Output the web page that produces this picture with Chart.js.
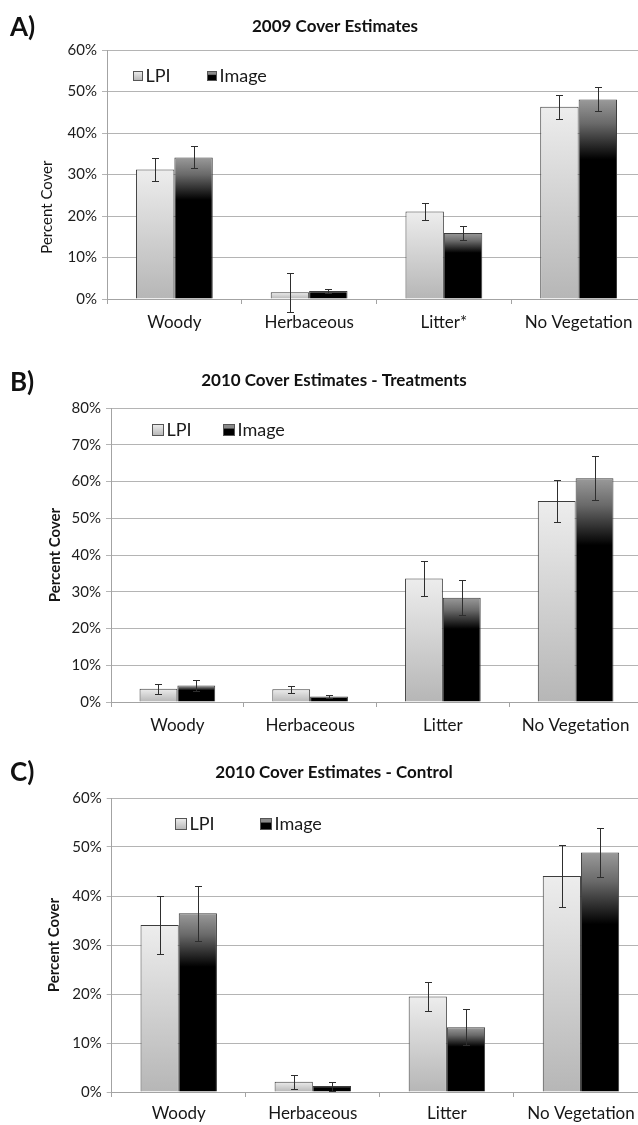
<!DOCTYPE html>
<html>
<head>
<meta charset="utf-8">
<title>Cover Estimates</title>
<script src="https://cdn.jsdelivr.net/npm/chart.js@4.4.1/dist/chart.umd.min.js"></script>
<style>
  html, body { margin: 0; padding: 0; background: #fff; overflow: hidden; width: 638px; height: 1125px; }
  canvas.panel { position: absolute; left: 0; }
  .tag { position: absolute; left: 10px; font: bold 26px Lato, sans-serif; color: #111; line-height: 30px; z-index: 2; }
</style>
</head>
<body>
<canvas id="chart2009" class="panel" width="660" height="345" style="top:0px"></canvas>
<canvas id="chartTreat" class="panel" width="660" height="400" style="top:345px"></canvas>
<canvas id="chartControl" class="panel" width="660" height="386" style="top:745px"></canvas>
<div class="tag" style="top:11px">A)</div>
<div class="tag" style="top:366px">B)</div>
<div class="tag" style="top:756px">C)</div>
<script>
// ---- data -------------------------------------------------------------
const categories2009 = ['Woody', 'Herbaceous', 'Litter*', 'No Vegetation'];
const categories2010 = ['Woody', 'Herbaceous', 'Litter', 'No Vegetation'];
const seriesNames = ['LPI', 'Image'];

// 2009 cover estimates (percent) and error half-widths
const lpi2009 = [31.2, 1.6, 21.1, 46.3];
const lpiErr2009 = [2.7, 4.7, 2.0, 2.85];
const image2009 = [34.1, 1.9, 15.9, 48.1];
const imageErr2009 = [2.65, 0.5, 1.75, 2.9];

// 2010 treatments
const lpiTreat = [3.6, 3.5, 33.6, 54.7];
const lpiErrTreat = [1.35, 0.95, 4.8, 5.6];
const imageTreat = [4.5, 1.5, 28.4, 60.9];
const imageErrTreat = [1.6, 0.5, 4.85, 6.05];

// 2010 control
const lpiControl = [34.1, 2.1, 19.5, 44.1];
const lpiErrControl = [5.9, 1.4, 3.0, 6.35];
const imageControl = [36.5, 1.2, 13.2, 48.9];
const imageErrControl = [5.6, 0.9, 3.7, 5.05];

// y-axis tick labels
const ticks60 = ['0%', '10%', '20%', '30%', '40%', '50%', '60%'];
const ticks80 = ['0%', '10%', '20%', '30%', '40%', '50%', '60%', '70%', '80%'];

// ---- styling ----------------------------------------------------------
Chart.defaults.font.family = 'Lato, "Open Sans", sans-serif';
Chart.defaults.color = '#1f1f1f';

const lpiStops = [[0, '#ededed'], [1, '#b6b6b6']];
const imageStops = [[0, '#9a9a9a'], [0.12, '#6a6a6a'], [0.3, '#000000'], [1, '#000000']];
const swatchStops = [lpiStops, [[0, '#8a8a8a'], [0.3, '#8a8a8a'], [0.45, '#000'], [1, '#000']]];

// vertical gradient spanning each bar from its value down to zero
function barFill(stops) {
  return (c) => {
    const chart = c.chart;
    if (c.type !== 'data' || !chart.chartArea) return stops[stops.length - 1][1];
    const y = chart.scales.y;
    const top = y.getPixelForValue(c.raw);
    const base = y.getPixelForValue(0);
    if (!isFinite(top) || !isFinite(base) || Math.abs(base - top) < 1) return stops[0][1];
    const g = chart.ctx.createLinearGradient(0, top, 0, base);
    stops.forEach(([p, col]) => g.addColorStop(p, col));
    return g;
  };
}

// error whiskers with caps, drawn from each dataset's `errors` array
const errorBars = {
  id: 'errorBars',
  afterDatasetsDraw(chart) {
    const { ctx } = chart;
    const y = chart.scales.y;
    ctx.save();
    ctx.strokeStyle = '#2e2e2e';
    ctx.lineWidth = 1;
    chart.data.datasets.forEach((ds, di) => {
      const meta = chart.getDatasetMeta(di);
      meta.data.forEach((bar, i) => {
        const v = ds.data[i], e = ds.errors[i];
        const x = Math.round(bar.x) + 0.5;
        const hi = Math.round(y.getPixelForValue(v + e)) + 0.5;
        const lo = Math.round(y.getPixelForValue(v - e)) + 0.5;
        ctx.beginPath();
        ctx.moveTo(x, hi); ctx.lineTo(x, lo);
        ctx.moveTo(x - 3.5, hi); ctx.lineTo(x + 3.5, hi);
        ctx.moveTo(x - 3.5, lo); ctx.lineTo(x + 3.5, lo);
        ctx.stroke();
      });
    });
    ctx.restore();
  }
};

// legend drawn inside the plotting area, top left
const insideLegend = {
  id: 'insideLegend',
  afterDraw(chart, args, opts) {
    const { ctx, chartArea } = chart;
    ctx.save();
    ctx.font = '18px Lato, "Open Sans", sans-serif';
    ctx.textBaseline = 'middle';
    chart.data.datasets.forEach((ds, i) => {
      const s = opts.box;
      const bx = Math.round(chartArea.left + opts.offsets[i]) + 0.5;
      const cy = chartArea.top + opts.y;
      const by = Math.round(cy - s / 2) + 0.5;
      const g = ctx.createLinearGradient(0, by, 0, by + s);
      swatchStops[i].forEach(([p, col]) => g.addColorStop(p, col));
      ctx.fillStyle = g;
      ctx.fillRect(bx, by, s, s);
      ctx.strokeStyle = '#555';
      ctx.lineWidth = 1;
      ctx.strokeRect(bx, by, s, s);
      ctx.fillStyle = '#1a1a1a';
      ctx.fillText(ds.label, bx + s + 3, cy + 1);
    });
    ctx.restore();
  }
};

function makeChart(id, cfg) {
  return new Chart(document.getElementById(id), {
    type: 'bar',
    data: {
      labels: cfg.categories,
      datasets: [
        { label: seriesNames[0], data: cfg.lpi, errors: cfg.lpiErr, backgroundColor: barFill(lpiStops),
          borderColor: '#3c3c3c', borderWidth: 1, categoryPercentage: 0.57, barPercentage: 1 },
        { label: seriesNames[1], data: cfg.image, errors: cfg.imageErr, backgroundColor: barFill(imageStops),
          borderColor: '#3c3c3c', borderWidth: 1, categoryPercentage: 0.57, barPercentage: 1 }
      ]
    },
    options: {
      responsive: false,
      animation: false,
      events: [],
      layout: { padding: cfg.padding },
      plugins: {
        legend: { display: false },
        tooltip: { enabled: false },
        title: {
          display: true, text: cfg.title, color: '#111',
          font: { size: 17, weight: 'bold' },
          padding: cfg.titlePadding
        },
        insideLegend: cfg.legend
      },
      scales: {
        x: {
          grid: { offset: true, drawOnChartArea: false, tickLength: 5, color: '#a3a3a3' },
          border: { color: '#a3a3a3' },
          ticks: { font: { size: 17 }, color: '#161616', padding: cfg.xPad, maxRotation: 0, autoSkip: false }
        },
        y: {
          min: 0, max: cfg.max,
          afterFit: (scale) => { scale.width = cfg.yWidth; },
          grid: { color: '#b4b4b4', tickLength: 5 },
          border: { color: '#a3a3a3' },
          ticks: { stepSize: 10, font: { size: 15 }, color: '#1c1c1c', padding: 5,
                   callback: (v, i) => cfg.tickLabels[i] },
          title: { display: true, text: cfg.yTitle, color: '#161616',
                   font: { size: 15, weight: cfg.yTitleWeight },
                   padding: { top: cfg.yTitlePad, bottom: 0 } }
        }
      }
    },
    plugins: [errorBars, insideLegend]
  });
}

makeChart('chart2009', {
  categories: categories2009, lpi: lpi2009, lpiErr: lpiErr2009, image: image2009, imageErr: imageErr2009,
  title: '2009 Cover Estimates', max: 60, tickLabels: ticks60,
  yTitle: 'Percent Cover' + ' '.repeat(17), yTitleWeight: 'normal', yTitlePad: 14,
  padding: { left: 24, right: 14, top: 0, bottom: 4.6 },
  titlePadding: { top: 16, bottom: 13.6 }, yWidth: 83, xPad: 8,
  legend: { offsets: [26, 100], y: 25, box: 9 }
});

makeChart('chartTreat', {
  categories: categories2010, lpi: lpiTreat, lpiErr: lpiErrTreat, image: imageTreat, imageErr: imageErrTreat,
  title: '2010 Cover Estimates - Treatments', max: 80, tickLabels: ticks80,
  yTitle: 'Percent Cover', yTitleWeight: 'bold', yTitlePad: 20,
  padding: { left: 26, right: 18, top: 0, bottom: 1.6 },
  titlePadding: { top: 25, bottom: 17.6 }, yWidth: 85, xPad: 8,
  legend: { offsets: [41, 112], y: 21, box: 11 }
});

makeChart('chartControl', {
  categories: categories2010, lpi: lpiControl, lpiErr: lpiErrControl, image: imageControl, imageErr: imageErrControl,
  title: '2010 Cover Estimates - Control', max: 60, tickLabels: ticks60,
  yTitle: 'Percent Cover', yTitleWeight: 'bold', yTitlePad: 25,
  padding: { left: 20, right: 12, top: 0, bottom: 1.6 },
  titlePadding: { top: 17, bottom: 15.6 }, yWidth: 91.7, xPad: 6,
  legend: { offsets: [63.5, 148.5], y: 25, box: 11 }
});
</script>
</body>
</html>
